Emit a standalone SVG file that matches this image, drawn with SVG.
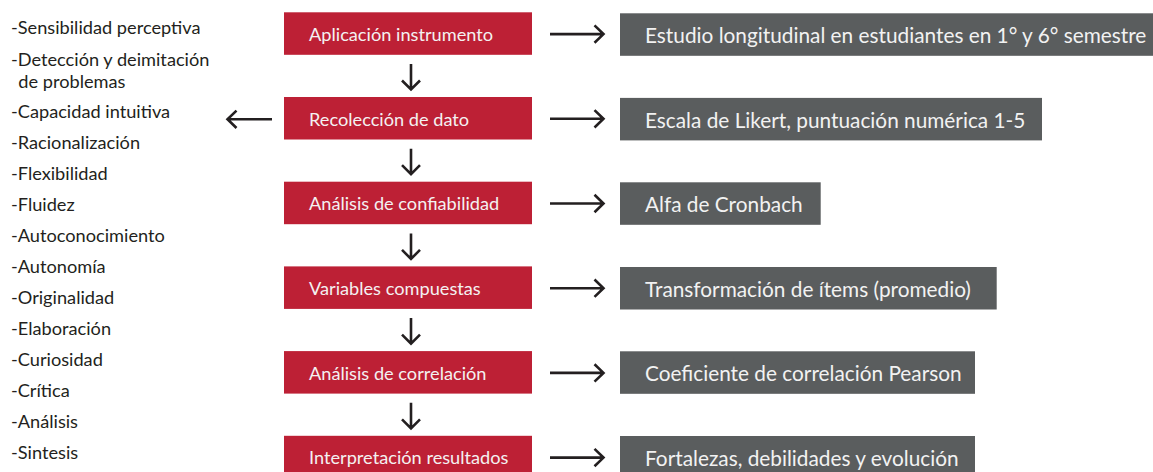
<svg xmlns="http://www.w3.org/2000/svg" width="1153" height="472" viewBox="0 0 1153 472">
<style>
.red{fill:#BD2035}
.gray{fill:#5A5D5E}
.rt{font-family:Lato,"Liberation Sans",sans-serif;font-size:18.2px;fill:#F4F1F1}
.gt{font-family:Lato,"Liberation Sans",sans-serif;font-size:20.8px;fill:#F2F2F2}
.lt{font-family:Lato,"Liberation Sans",sans-serif;font-size:18.2px;fill:#231F20}
.ar{fill:none;stroke:#231F20;stroke-width:2.6;stroke-linecap:butt;stroke-linejoin:miter}
</style>
<rect width="1153" height="472" fill="#FFFFFF"/>
<g id="list">
<text class="lt" x="11" y="34.3">-Sensibilidad perceptiva</text>
<text class="lt" x="11" y="66">-Detección y deimitación</text>
<text class="lt" x="18.3" y="87.5">de problemas</text>
<text class="lt" x="11" y="118.3">-Capacidad intuitiva</text>
<text class="lt" x="11" y="149.3">-Racionalización</text>
<text class="lt" x="11" y="180.3">-Flexibilidad</text>
<text class="lt" x="11" y="211.3">-Fluidez</text>
<text class="lt" x="11" y="242.3">-Autoconocimiento</text>
<text class="lt" x="11" y="273.3">-Autonomía</text>
<text class="lt" x="11" y="304.3">-Originalidad</text>
<text class="lt" x="11" y="335.3">-Elaboración</text>
<text class="lt" x="11" y="366.3">-Curiosidad</text>
<text class="lt" x="11" y="397.3">-Crítica</text>
<text class="lt" x="11" y="428.3">-Análisis</text>
<text class="lt" x="11" y="459.3">-Sintesis</text>
</g>
<g id="step1"><rect class="red" x="284" y="12.3" width="248" height="42.5"/><text class="rt" x="309" y="40.7">Aplicación instrumento</text></g>
<g id="step2"><rect class="red" x="284" y="97" width="248" height="42.5"/><text class="rt" x="309" y="125.5">Recolección de dato</text></g>
<g id="step3"><rect class="red" x="284" y="181.7" width="248" height="42.5"/><text class="rt" x="309" y="210.2">Análisis de confiabilidad</text></g>
<g id="step4"><rect class="red" x="284" y="266.4" width="248" height="42.5"/><text class="rt" x="309" y="294.9">Variables compuestas</text></g>
<g id="step5"><rect class="red" x="284" y="351.1" width="248" height="42.5"/><text class="rt" x="309" y="379.6">Análisis de correlación</text></g>
<g id="step6"><rect class="red" x="284" y="435.8" width="248" height="42.5"/><text class="rt" x="309" y="464.3">Interpretación resultados</text></g>
<g id="out1"><rect class="gray" x="620" y="13.3" width="540" height="42.5"/><text class="gt" x="645" y="43.3">Estudio longitudinal en estudiantes en 1° y 6° semestre</text></g>
<g id="out2"><rect class="gray" x="620" y="97.9" width="422" height="42.5"/><text class="gt" x="645" y="127.9">Escala de Likert, puntuación numérica 1-5</text></g>
<g id="out3"><rect class="gray" x="620" y="182.3" width="200.7" height="42.5"/><text class="gt" x="645" y="212.3">Alfa de Cronbach</text></g>
<g id="out4"><rect class="gray" x="620" y="267" width="376.7" height="42.5"/><text class="gt" x="645" y="297">Transformación de ítems (promedio)</text></g>
<g id="out5"><rect class="gray" x="620" y="351.3" width="355" height="42.5"/><text class="gt" x="645" y="381.3">Coeficiente de correlación Pearson</text></g>
<g id="out6"><rect class="gray" x="620" y="436" width="355" height="42.5"/><text class="gt" x="645" y="466">Fortalezas, debilidades y evolución</text></g>
<g id="connectors">
<path class="ar" d="M550 34.1H603.5M594.5 25.4L603.5 34.1L594.5 42.8"/>
<path class="ar" d="M550 118.8H603.5M594.5 110.1L603.5 118.8L594.5 127.5"/>
<path class="ar" d="M550 203.5H603.5M594.5 194.8L603.5 203.5L594.5 212.2"/>
<path class="ar" d="M550 288.2H603.5M594.5 279.5L603.5 288.2L594.5 296.9"/>
<path class="ar" d="M550 372.9H603.5M594.5 364.2L603.5 372.9L594.5 381.6"/>
<path class="ar" d="M550 457.6H603.5M594.5 448.9L603.5 457.6L594.5 466.3"/>
<path class="ar" d="M272 119.3H227.5M236.5 110.6L227.5 119.3L236.5 128"/>
<path class="ar" d="M411 64V89.5M402 80.5L411 89.5L420 80.5"/>
<path class="ar" d="M411 148.7V174.2M402 165.2L411 174.2L420 165.2"/>
<path class="ar" d="M411 233.4V258.9M402 249.9L411 258.9L420 249.9"/>
<path class="ar" d="M411 318.1V343.6M402 334.6L411 343.6L420 334.6"/>
<path class="ar" d="M411 402.8V428.3M402 419.3L411 428.3L420 419.3"/>
</g>
</svg>
